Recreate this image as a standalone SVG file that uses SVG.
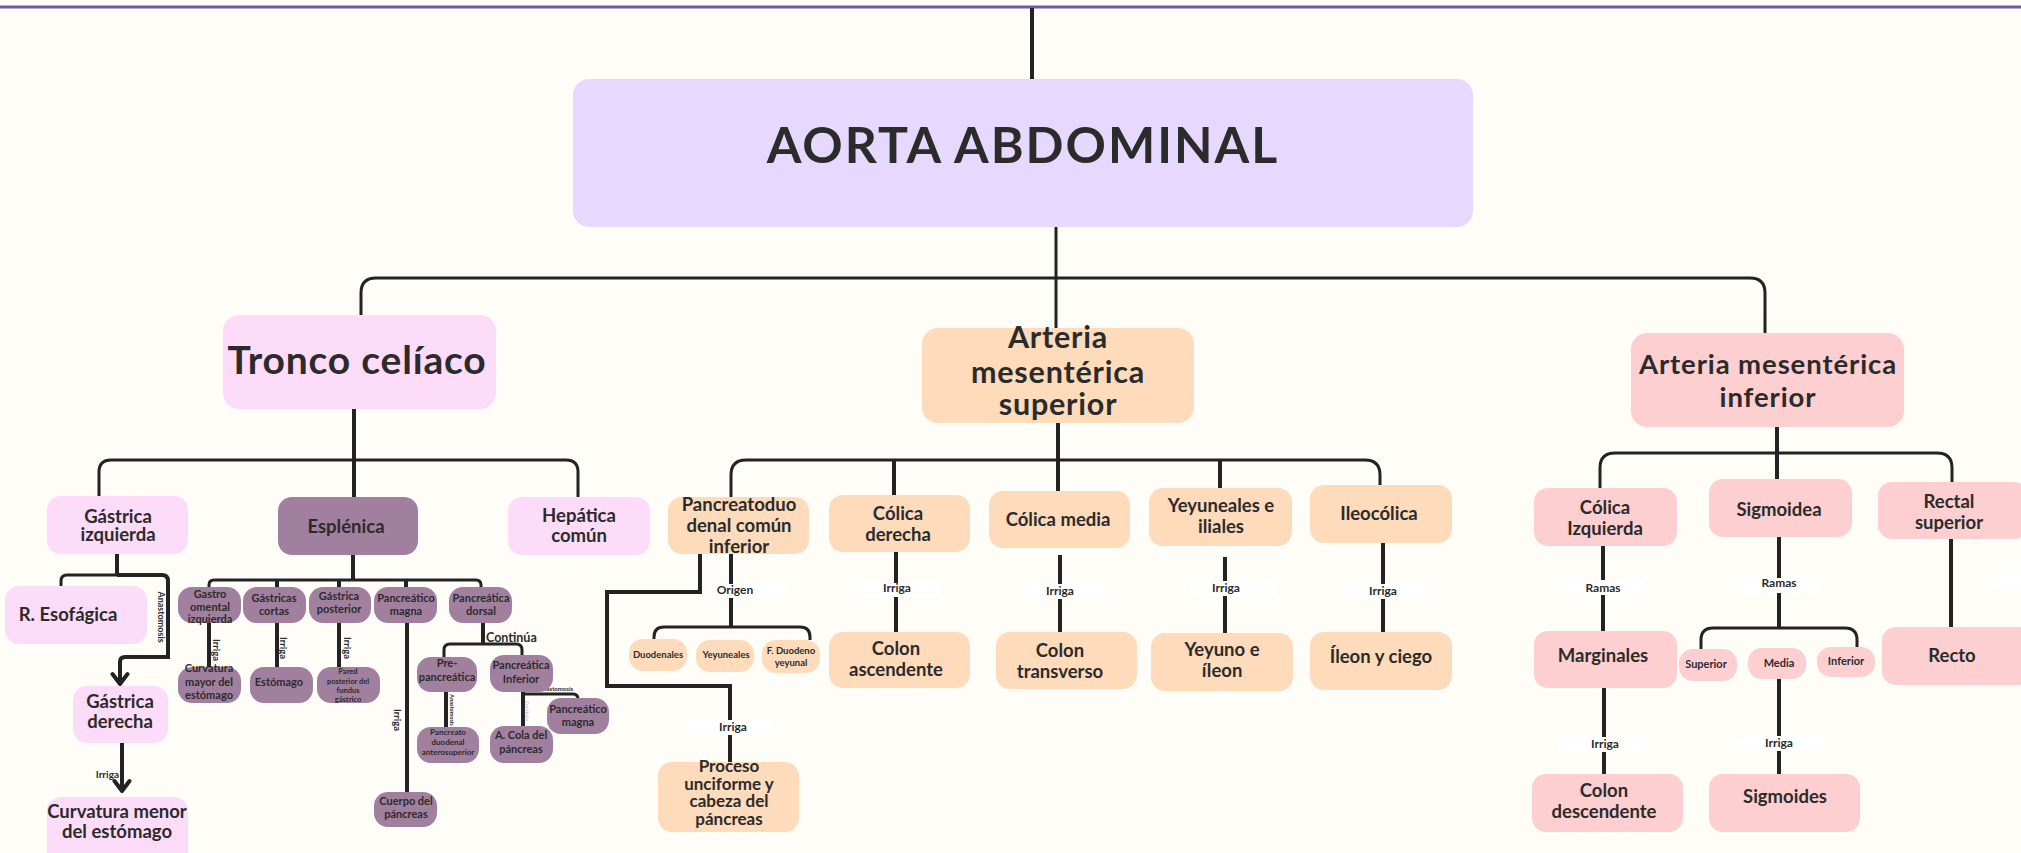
<svg xmlns="http://www.w3.org/2000/svg" width="2021" height="853" viewBox="0 0 2021 853">
<defs>
<style>
.t{font-family:Lato,"Open Sans",sans-serif;font-weight:700;fill:#2b2b2b;text-anchor:middle}
.c{fill:none;stroke:#232323;stroke-width:4}
.b{fill:none;stroke:#232323;stroke-width:3}
.pill{fill:#ffffff}
.aorta{fill:#e7d8ff}
.pk{fill:#fddcf9}
.pu{fill:#a1809f}
.pe{fill:#fedbbb}
.ro{fill:#fdcfd0}
.lbl{font-size:12px}
.s{font-size:11px}
.m{font-size:18.5px}
</style>
<marker id="arr" markerUnits="userSpaceOnUse" markerWidth="20" markerHeight="20" viewBox="0 0 20 20" refX="13" refY="10" orient="auto">
<path d="M3,2.5 L13,10 L3,17.5" fill="none" stroke="#232323" stroke-width="4" stroke-linecap="round" stroke-linejoin="round"/>
</marker>
</defs>
<rect width="2021" height="853" fill="#fffdf8"/>
<rect x="0" y="5.5" width="2021" height="3" fill="#7257a3"/>

<g id="connectors">
<path class="c" d="M1032,8 V79"/>
<path class="b" d="M1056,227 V329"/>
<path class="b" d="M361,315 V293 Q361,278 376,278 H1750 Q1765,278 1765,293 V333"/>
<path class="c" d="M354,409 V497"/>
<path class="b" d="M99,496 V472 Q99,460 111,460 H566 Q578,460 578,472 V497"/>
<path class="c" d="M117,554 V575"/>
<path class="b" d="M117,575 H67 Q61,575 61,581 V586"/>
<path class="c" d="M117,575 H162 Q168,575 168,581 V657 H125 Q120,657 120,662 V684" marker-end="url(#arr)"/>
<path class="c" d="M122,743 V791" marker-end="url(#arr)"/>
<path class="c" d="M353,555 V580"/>
<path class="b" d="M209,587 V585 Q209,580 214,580 H476 Q481,580 481,585 V587"/>
<path class="c" d="M277,580 V587 M339,580 V587 M406,580 V587"/>
<path class="c" d="M209,623 V667 M277,623 V667 M339,623 V667 M407,623 V792"/>
<path class="c" d="M483,623 V644"/>
<path class="b" d="M444,657 V650 Q444,644 450,644 H516 Q522,644 522,650 V655"/>
<path class="c" d="M446,692 V727 M523,692 V726"/>
<path class="b" d="M523,694 H573 Q578,694 578,699"/>
<path class="c" d="M700,554 V592 H607 V686 H730 V762"/>
<path class="c" d="M731,554 V627"/>
<path class="b" d="M654,640 V637 Q654,627 664,627 H800 Q810,627 810,637 V640"/>
<path class="c" d="M1058,423 V491"/>
<path class="b" d="M731,497 V475 Q731,460 746,460 H1365 Q1380,460 1380,475 V485"/>
<path class="c" d="M894,460 V495 M1220,460 V488"/>
<path class="c" d="M896,552 V632 M1060,555 V632 M1225,557 V633 M1383,543 V632"/>
<path class="c" d="M1777,427 V479"/>
<path class="b" d="M1600,488 V468 Q1600,453 1615,453 H1937 Q1952,453 1952,468 V482"/>
<path class="c" d="M1603,546 V631 M1604,688 V774"/>
<path class="c" d="M1779,537 V628"/>
<path class="b" d="M1701,649 V640 Q1701,628 1713,628 H1845 Q1857,628 1857,640 V647"/>
<path class="c" d="M1779,679 V774"/>
<path class="c" d="M1951,539 V627"/>

<g id="labels">
<text class="t" font-size="9" transform="translate(161,617) rotate(90)" dominant-baseline="central">Anastomosis</text>
<text class="t" font-size="10" x="119" y="778" style="text-anchor:end">Irriga</text>
<text class="t" font-size="9.5" transform="translate(216,650) rotate(90)" dominant-baseline="central">Irriga</text>
<text class="t" font-size="9.5" transform="translate(283,648) rotate(90)" dominant-baseline="central">Irriga</text>
<text class="t" font-size="9.5" transform="translate(347,648) rotate(90)" dominant-baseline="central">Irriga</text>
<text class="t" font-size="9.5" transform="translate(397,720) rotate(90)" dominant-baseline="central">Irriga</text>
<text class="t" font-size="12.5" x="486" y="642" style="text-anchor:start">Continúa</text>
<text class="t" font-size="5.5" transform="translate(452,710) rotate(90)" dominant-baseline="central">Anastomosis</text>
<text class="t" font-size="5" transform="translate(527,711) rotate(90)" dominant-baseline="central" style="fill:#d9c3d6">Continúa</text>
<text class="t" font-size="6" x="556" y="691">Anastomosis</text>

<rect class="pill" x="707" y="584" width="82" height="14" rx="7"/>
<text class="t lbl" x="735" y="594">Origen</text>
<rect class="pill" x="687" y="720" width="86" height="15" rx="7"/>
<text class="t lbl" x="733" y="731">Irriga</text>
<rect class="pill" x="855" y="583" width="86" height="14" rx="7"/>
<text class="t lbl" x="897" y="592">Irriga</text>
<rect class="pill" x="1023" y="584" width="86" height="15" rx="7"/>
<text class="t lbl" x="1060" y="595">Irriga</text>
<rect class="pill" x="1190" y="581" width="87" height="15" rx="7"/>
<text class="t lbl" x="1226" y="592">Irriga</text>
<rect class="pill" x="1345" y="584" width="87" height="15" rx="7"/>
<text class="t lbl" x="1383" y="595">Irriga</text>
<rect class="pill" x="1560" y="580" width="87" height="15" rx="7"/>
<text class="t lbl" x="1603" y="592">Ramas</text>
<rect class="pill" x="1737" y="578" width="85" height="15" rx="7"/>
<text class="t lbl" x="1779" y="587">Ramas</text>
<rect class="pill" x="1558" y="737" width="87" height="15" rx="7"/>
<text class="t lbl" x="1605" y="748">Irriga</text>
<rect class="pill" x="1738" y="736" width="87" height="15" rx="7"/>
<text class="t lbl" x="1779" y="747">Irriga</text>
<rect class="pill" x="1991" y="572" width="50" height="15" rx="7"/>
</g>
</g>

<g id="aorta"><rect class="aorta" x="573" y="79" width="900" height="148" rx="16"/><text class="t" font-size="50" letter-spacing="2" x="1023" y="163">AORTA ABDOMINAL</text></g>

<g id="tronco"><rect class="pk" x="223" y="315" width="273" height="94" rx="16"/><text class="t" font-size="39" letter-spacing="0.8" x="357" y="374">Tronco celíaco</text></g>
<g id="ams"><rect class="pe" x="922" y="328" width="272" height="95" rx="16"/><text class="t" font-size="30.5" letter-spacing="0.8" x="1058" y="348">Arteria</text><text class="t" font-size="30.5" letter-spacing="0.8" x="1058" y="383">mesentérica</text><text class="t" font-size="30.5" letter-spacing="0.8" x="1058" y="415">superior</text></g>
<g id="ami"><rect class="ro" x="1631" y="333" width="273" height="94" rx="16"/><text class="t" font-size="27.5" letter-spacing="0.9" x="1768" y="374">Arteria mesentérica</text><text class="t" font-size="27.5" letter-spacing="0.9" x="1768" y="407">inferior</text></g>

<g id="gastrica-izq"><rect class="pk" x="47" y="496" width="141" height="58" rx="14"/><text class="t m" x="118" y="523">Gástrica</text><text class="t m" x="118" y="541">izquierda</text></g>
<g id="esplenica"><rect class="pu" x="278" y="497" width="140" height="58" rx="14"/><text class="t m" x="346" y="533">Esplénica</text></g>
<g id="hepatica"><rect class="pk" x="508" y="497" width="142" height="58" rx="14"/><text class="t m" x="579" y="522">Hepática</text><text class="t m" x="579" y="542">común</text></g>
<g id="esofagica"><rect class="pk" x="5" y="586" width="142" height="58" rx="14"/><text class="t m" x="68" y="621">R. Esofágica</text></g>
<g id="gastrica-der"><rect class="pk" x="73" y="686" width="95" height="57" rx="14"/><text class="t m" x="120" y="708">Gástrica</text><text class="t m" x="120" y="728">derecha</text></g>
<g id="curv-menor"><rect class="pk" x="47" y="797" width="141" height="70" rx="14"/><text class="t m" x="117" y="818">Curvatura menor</text><text class="t m" x="117" y="838">del estómago</text></g>

<g id="gastroomental"><rect class="pu" x="178" y="587" width="63" height="36" rx="14"/><text class="t s" x="210" y="598">Gastro</text><text class="t s" x="210" y="610.5">omental</text><text class="t s" x="210" y="623">izquierda</text></g>
<g id="gastricas-cortas"><rect class="pu" x="243" y="587" width="63" height="36" rx="14"/><text class="t s" x="274" y="602">Gástricas</text><text class="t s" x="274" y="615">cortas</text></g>
<g id="gastrica-post"><rect class="pu" x="309" y="587" width="62" height="36" rx="14"/><text class="t s" x="339" y="600">Gástrica</text><text class="t s" x="339" y="613">posterior</text></g>
<g id="pancreatico-magna"><rect class="pu" x="374" y="587" width="63" height="36" rx="14"/><text class="t s" x="406" y="602">Pancreático</text><text class="t s" x="406" y="615">magna</text></g>
<g id="pancreatica-dorsal"><rect class="pu" x="449" y="587" width="63" height="36" rx="14"/><text class="t s" x="481" y="602">Pancreática</text><text class="t s" x="481" y="615">dorsal</text></g>
<g id="curv-mayor"><rect class="pu" x="178" y="667" width="63" height="36" rx="14"/><text class="t s" x="209" y="672">Curvatura</text><text class="t s" x="209" y="686">mayor del</text><text class="t s" x="209" y="699">estómago</text></g>
<g id="estomago"><rect class="pu" x="250" y="667" width="63" height="36" rx="14"/><text class="t s" x="279" y="686">Estómago</text></g>
<g id="pared"><rect class="pu" x="317" y="667" width="63" height="36" rx="14"/><text class="t" font-size="7.5" x="348" y="674">Pared</text><text class="t" font-size="7.5" x="348" y="684">posterior del</text><text class="t" font-size="7.5" x="348" y="693">fundus</text><text class="t" font-size="7.5" x="348" y="702">gástrico</text></g>
<g id="cuerpo"><rect class="pu" x="374" y="792" width="63" height="35" rx="14"/><text class="t s" x="406" y="805">Cuerpo del</text><text class="t s" x="406" y="818">páncreas</text></g>
<g id="prepancreatica"><rect class="pu" x="417" y="657" width="60" height="35" rx="14"/><text class="t s" x="447" y="667">Pre-</text><text class="t s" x="447" y="681">pancreática</text></g>
<g id="pancreatica-inf"><rect class="pu" x="490" y="655" width="63" height="37" rx="14"/><text class="t s" x="521" y="669">Pancreática</text><text class="t s" x="521" y="683">Inferior</text></g>
<g id="pancreatoduodenal-as"><rect class="pu" x="417" y="727" width="62" height="36" rx="14"/><text class="t" font-size="8" x="448" y="735">Pancreato</text><text class="t" font-size="8" x="448" y="745">duodenal</text><text class="t" font-size="8" x="448" y="754.5">anterosuperior</text></g>
<g id="cola"><rect class="pu" x="490" y="726" width="63" height="37" rx="14"/><text class="t s" x="521" y="739">A. Cola del</text><text class="t s" x="521" y="753">páncreas</text></g>
<g id="pancreatico-magna-2"><rect class="pu" x="547" y="698" width="62" height="36" rx="14"/><text class="t s" x="578" y="713">Pancreático</text><text class="t s" x="578" y="726">magna</text></g>

<g id="pancreatoduodenal"><rect class="pe" x="668" y="497" width="141" height="57" rx="14"/><text class="t m" x="739" y="511">Pancreatoduo</text><text class="t m" x="739" y="532">denal común</text><text class="t m" x="739" y="553">inferior</text></g>
<g id="duodenales"><rect class="pe" x="629" y="639" width="58" height="32" rx="14"/><text class="t" font-size="9.5" x="658" y="658">Duodenales</text></g>
<g id="yeyuneales-s"><rect class="pe" x="696" y="640" width="58" height="32" rx="14"/><text class="t" font-size="9.5" x="726" y="658">Yeyuneales</text></g>
<g id="f-duodeno"><rect class="pe" x="762" y="640" width="58" height="33" rx="14"/><text class="t" font-size="9.5" x="791" y="654">F. Duodeno</text><text class="t" font-size="9.5" x="791" y="666">yeyunal</text></g>
<g id="proceso"><rect class="pe" x="658" y="762" width="141" height="70" rx="14"/><text class="t" font-size="17" x="729" y="772">Proceso</text><text class="t" font-size="17" x="729" y="790">unciforme y</text><text class="t" font-size="17" x="729" y="807">cabeza del</text><text class="t" font-size="17" x="729" y="825">páncreas</text></g>
<g id="colica-der"><rect class="pe" x="829" y="495" width="141" height="57" rx="14"/><text class="t m" x="898" y="520">Cólica</text><text class="t m" x="898" y="541">derecha</text></g>
<g id="colica-media"><rect class="pe" x="989" y="491" width="141" height="57" rx="14"/><text class="t m" x="1058" y="526">Cólica media</text></g>
<g id="yeyuneales"><rect class="pe" x="1149" y="488" width="143" height="58" rx="14"/><text class="t m" x="1221" y="512">Yeyuneales e</text><text class="t m" x="1221" y="533">iliales</text></g>
<g id="ileocolica"><rect class="pe" x="1310" y="485" width="142" height="58" rx="14"/><text class="t m" x="1379" y="520">Ileocólica</text></g>
<g id="colon-asc"><rect class="pe" x="829" y="632" width="141" height="56" rx="14"/><text class="t m" x="896" y="655">Colon</text><text class="t m" x="896" y="676">ascendente</text></g>
<g id="colon-trans"><rect class="pe" x="996" y="632" width="141" height="57" rx="14"/><text class="t m" x="1060" y="657">Colon</text><text class="t m" x="1060" y="678">transverso</text></g>
<g id="yeyuno"><rect class="pe" x="1151" y="633" width="142" height="58" rx="14"/><text class="t m" x="1222" y="656">Yeyuno e</text><text class="t m" x="1222" y="677">íleon</text></g>
<g id="ileon"><rect class="pe" x="1310" y="632" width="142" height="58" rx="14"/><text class="t m" x="1381" y="663">Íleon y ciego</text></g>

<g id="colica-izq"><rect class="ro" x="1534" y="488" width="143" height="58" rx="14"/><text class="t m" x="1605" y="514">Cólica</text><text class="t m" x="1605" y="535">Izquierda</text></g>
<g id="sigmoidea"><rect class="ro" x="1709" y="479" width="143" height="58" rx="14"/><text class="t m" x="1779" y="516">Sigmoidea</text></g>
<g id="rectal-sup"><rect class="ro" x="1878" y="482" width="150" height="57" rx="14"/><text class="t m" x="1949" y="508">Rectal</text><text class="t m" x="1949" y="529">superior</text></g>
<g id="marginales"><rect class="ro" x="1534" y="631" width="143" height="57" rx="14"/><text class="t m" x="1603" y="662">Marginales</text></g>
<g id="superior"><rect class="ro" x="1679" y="649" width="58" height="32" rx="14"/><text class="t s" x="1706" y="668">Superior</text></g>
<g id="media"><rect class="ro" x="1748" y="648" width="58" height="31" rx="14"/><text class="t s" x="1779" y="667">Media</text></g>
<g id="inferior"><rect class="ro" x="1817" y="647" width="58" height="30" rx="14"/><text class="t s" x="1846" y="665">Inferior</text></g>
<g id="recto"><rect class="ro" x="1882" y="627" width="150" height="58" rx="14"/><text class="t m" x="1952" y="662">Recto</text></g>
<g id="colon-desc"><rect class="ro" x="1532" y="774" width="151" height="58" rx="14"/><text class="t m" x="1604" y="797">Colon</text><text class="t m" x="1604" y="818">descendente</text></g>
<g id="sigmoides"><rect class="ro" x="1709" y="774" width="151" height="58" rx="14"/><text class="t m" x="1785" y="803">Sigmoides</text></g>
</svg>
